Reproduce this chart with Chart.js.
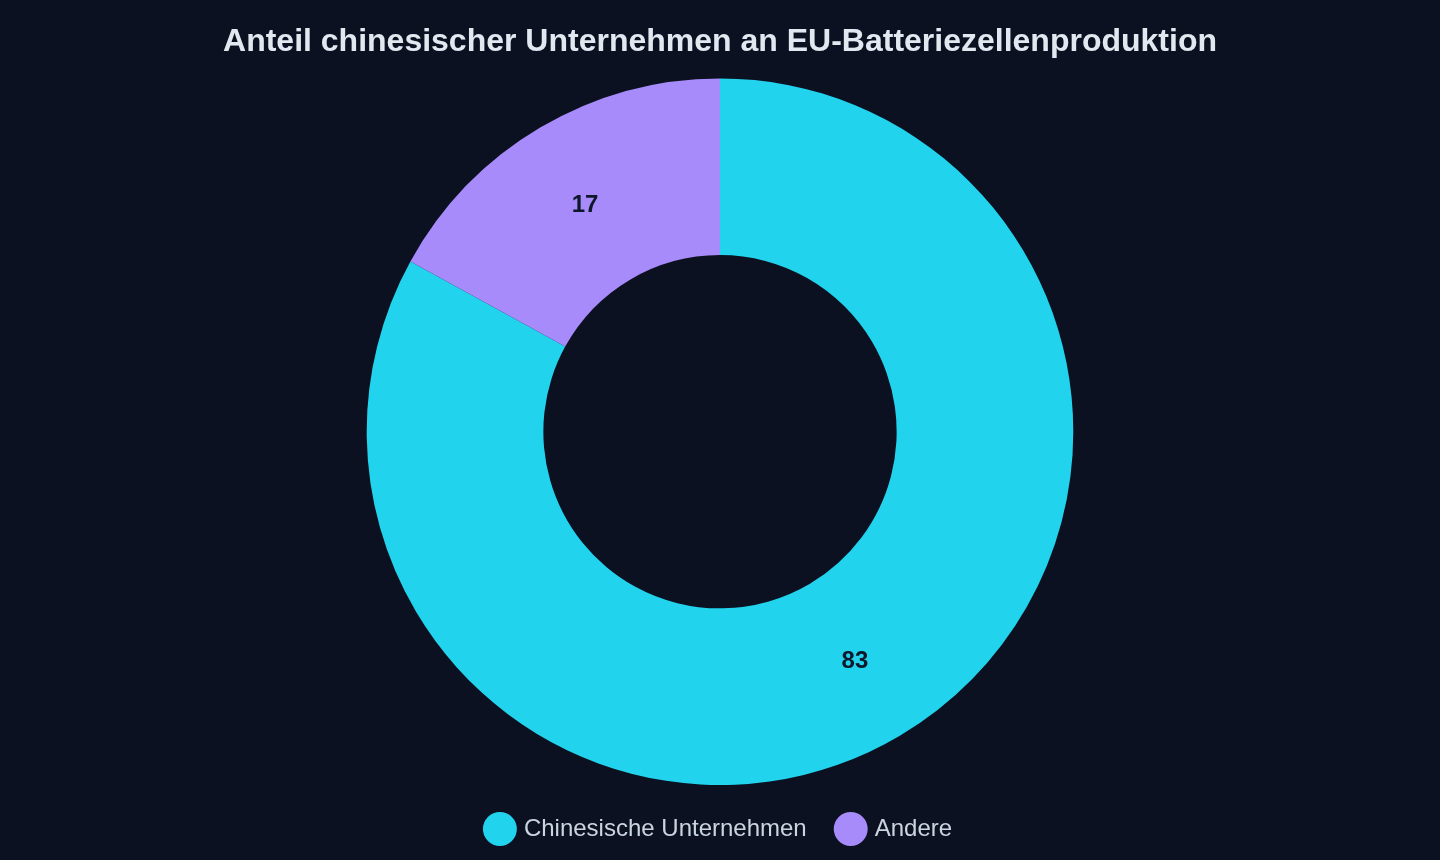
<!DOCTYPE html>
<html>
<head>
<meta charset="utf-8">
<script src="https://cdn.jsdelivr.net/npm/chart.js@4.4.1/dist/chart.umd.min.js"></script>
<style>
  html, body { margin: 0; padding: 0; background: #0b1120; }
  #wrap { width: 1440px; height: 860px; position: relative; }
</style>
</head>
<body>
<div id="wrap"><canvas id="c"></canvas></div>
<script>
const categories = ["Chinesische Unternehmen", "Andere"];
const shareValues = [83, 17];
const sliceColors = ["#22d3ee", "#a78bfa"];
const chartTitle = "Anteil chinesischer Unternehmen an EU-Batteriezellenproduktion";

const valueLabels = {
  id: 'valueLabels',
  afterDatasetsDraw(chart) {
    const ctx = chart.ctx;
    const meta = chart.getDatasetMeta(0);
    ctx.save();
    ctx.font = 'bold 24px "Liberation Sans", Arial, sans-serif';
    ctx.fillStyle = '#0f172a';
    ctx.textAlign = 'center';
    ctx.textBaseline = 'middle';
    meta.data.forEach((arc, i) => {
      const p = arc.tooltipPosition();
      ctx.fillText(String(chart.data.datasets[0].data[i]), p.x, p.y + 2);
    });
    ctx.restore();
  }
};

new Chart(document.getElementById('c'), {
  type: 'doughnut',
  data: {
    labels: categories,
    datasets: [{
      data: shareValues,
      backgroundColor: sliceColors,
      borderWidth: 0,
      hoverOffset: 0
    }]
  },
  options: {
    responsive: true,
    maintainAspectRatio: false,
    animation: false,
    cutout: '50%',
    layout: { padding: { top: 0, bottom: 9 } },
    plugins: {
      title: {
        display: true,
        text: chartTitle,
        color: '#e2e8f0',
        font: { family: '"Liberation Sans", Arial, sans-serif', size: 32, weight: 'bold' },
        padding: { top: 23, bottom: 17 }
      },
      legend: {
        position: 'bottom',
        labels: {
          usePointStyle: true,
          pointStyle: 'circle',
          color: '#cbd5e1',
          font: { family: '"Liberation Sans", Arial, sans-serif', size: 24 },
          padding: 32
        }
      },
      tooltip: { enabled: false }
    }
  },
  plugins: [valueLabels]
});
</script>
</body>
</html>
